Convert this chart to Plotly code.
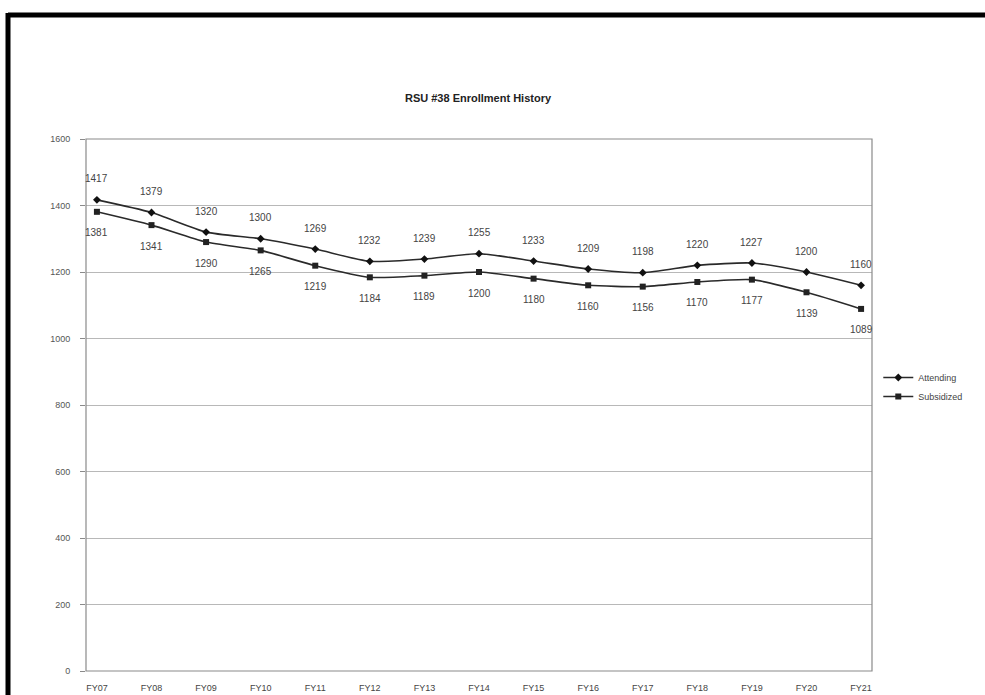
import plotly.graph_objects as go

# Fiscal years and enrollment counts
years = ["FY07", "FY08", "FY09", "FY10", "FY11", "FY12", "FY13", "FY14",
         "FY15", "FY16", "FY17", "FY18", "FY19", "FY20", "FY21"]
attending = [1417, 1379, 1320, 1300, 1269, 1232, 1239, 1255,
             1233, 1209, 1198, 1220, 1227, 1200, 1160]
subsidized = [1381, 1341, 1290, 1265, 1219, 1184, 1189, 1200,
              1180, 1160, 1156, 1170, 1177, 1139, 1089]
y_ticks = [0, 200, 400, 600, 800, 1000, 1200, 1400, 1600]

W, H = 985, 695
L, R, T, B = 86, 872, 139, 671   # plot area in pixels

FONT = "Liberation Sans, Arial, sans-serif"
LINE = "#2a2a2a"
TEXT = "#444444"


def px_x(x):
    return (x - L) / (R - L)


def px_y(y):
    return (B - y) / (B - T)


fig = go.Figure()

fig.add_trace(go.Scatter(
    x=years, y=attending, name="Attending",
    mode="lines+markers",
    line=dict(color=LINE, width=1.6, shape="spline", smoothing=0.6),
    marker=dict(symbol="diamond", size=6, color="#111111"),
))
fig.add_trace(go.Scatter(
    x=years, y=subsidized, name="Subsidized",
    mode="lines+markers",
    line=dict(color=LINE, width=1.6, shape="spline", smoothing=0.6),
    marker=dict(symbol="square", size=6, color="#222222"),
))

# value labels: attending above its points, subsidized below
annotations = []
for yr, v in zip(years, attending):
    annotations.append(dict(x=yr, y=v, text=str(v), showarrow=False,
                            yshift=21, font=dict(family=FONT, size=10, color=TEXT)))
for yr, v in zip(years, subsidized):
    annotations.append(dict(x=yr, y=v, text=str(v), showarrow=False,
                            yshift=-21, font=dict(family=FONT, size=10, color=TEXT)))

shapes = [
    # plot-area frame
    dict(type="rect", xref="paper", yref="paper", x0=0, x1=1, y0=0, y1=1,
         line=dict(color="#8a8a8a", width=1.2), layer="above"),
    # page border: thick black lines on top and left
    dict(type="line", xref="paper", yref="paper",
         x0=px_x(8), x1=px_x(W + 5), y0=px_y(15), y1=px_y(15),
         line=dict(color="#000000", width=5)),
    dict(type="line", xref="paper", yref="paper",
         x0=px_x(8), x1=px_x(8), y0=px_y(13), y1=px_y(H + 5),
         line=dict(color="#000000", width=5)),
]

fig.update_layout(
    width=W, height=H,
    margin=dict(l=L, r=W - R, t=T, b=H - B, pad=0, autoexpand=False),
    paper_bgcolor="white", plot_bgcolor="white",
    font=dict(family=FONT, size=10, color=TEXT),
    title=dict(text="<b>RSU #38 Enrollment History</b>",
               x=478 / W, xanchor="center",
               y=1 - 98 / H, yanchor="middle",
               font=dict(family=FONT, size=11, color="#222222")),
    showlegend=True,
    legend=dict(x=1.008, y=px_y(387), xanchor="left", yanchor="middle",
                font=dict(family=FONT, size=9, color=TEXT),
                bgcolor="rgba(0,0,0,0)", itemwidth=30, tracegroupgap=0),
    shapes=shapes,
    annotations=annotations,
    xaxis=dict(
        type="category", categoryorder="array", categoryarray=years,
        range=[-0.2, len(years) - 0.8], automargin=False,
        showgrid=False, showline=False, zeroline=False,
        ticks="outside", ticklen=8, tickcolor="rgba(0,0,0,0)",
        tickfont=dict(family=FONT, size=9, color=TEXT),
    ),
    yaxis=dict(
        range=[0, 1600], tickvals=y_ticks, automargin=False,
        showgrid=True, gridcolor="#b8b8b8", gridwidth=1,
        zeroline=False, showline=False,
        ticks="outside", ticklen=5, tickcolor="#8a8a8a",
        ticklabelstandoff=8,
        tickfont=dict(family=FONT, size=9, color="#555555"),
    ),
)

fig.write_html("out.html")
